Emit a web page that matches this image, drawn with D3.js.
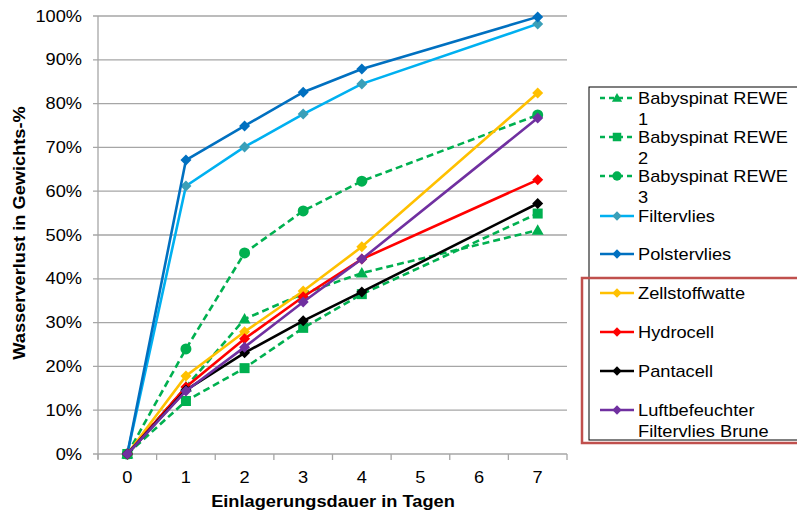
<!DOCTYPE html>
<html><head><meta charset="utf-8">
<script src="https://cdn.jsdelivr.net/npm/d3@7"></script>
<style>body{margin:0;background:#fff}svg{font-family:"Liberation Sans",Arial,sans-serif}</style>
</head><body><svg id="c" width="797" height="515"></svg>
<script>
const categories = [0,1,2,3,4,5,6,7];
const days = [0,1,2,3,4,7];
const babyspinat1 = [0,15.3,30.8,36.6,41.3,51.1];
const babyspinat2 = [0,12.1,19.6,28.8,36.5,54.9];
const babyspinat3 = [0,24.0,45.9,55.5,62.3,77.4];
const filtervlies = [0,61.2,70.1,77.6,84.5,98.2];
const polstervlies = [0,67.1,74.9,82.6,87.9,99.8];
const zellstoffwatte = [0,17.8,27.9,37.2,47.3,82.4];
const hydrocell = [0,15.3,26.3,35.9,44.5,62.6];
const pantacell = [0,14.6,23.1,30.4,37.0,57.2];
const luftbefeuchter = [0,14.4,24.4,34.7,44.5,76.7];
const yTicks = [0,10,20,30,40,50,60,70,80,90,100];

const series = [
 {name:["Babyspinat REWE","1"], v:babyspinat1, color:"#00B050", mcolor:"#00B050", dash:"7,4", marker:"triangle"},
 {name:["Babyspinat REWE","2"], v:babyspinat2, color:"#00B050", mcolor:"#00B050", dash:"7,4", marker:"square"},
 {name:["Babyspinat REWE","3"], v:babyspinat3, color:"#00B050", mcolor:"#00B050", dash:"7,4", marker:"circle"},
 {name:["Filtervlies"], v:filtervlies, color:"#00B0F0", mcolor:"#3A9FB8", dash:null, marker:"diamond"},
 {name:["Polstervlies"], v:polstervlies, color:"#0070C0", mcolor:"#0070C0", dash:null, marker:"diamond"},
 {name:["Zellstoffwatte"], v:zellstoffwatte, color:"#FFC000", mcolor:"#FFC000", dash:null, marker:"diamond"},
 {name:["Hydrocell"], v:hydrocell, color:"#FF0000", mcolor:"#FF0000", dash:null, marker:"diamond"},
 {name:["Pantacell"], v:pantacell, color:"#000000", mcolor:"#000000", dash:null, marker:"diamond"},
 {name:["Luftbefeuchter","Filtervlies Brune"], v:luftbefeuchter, color:"#7030A0", mcolor:"#7030A0", dash:null, marker:"diamond"}
];

const FS = 16, SX = 1.14;
const svg = d3.select("#c");
const L=98, R=567, T=16, B=454;
const xb = d3.scaleBand().domain(categories).range([L,R]);
const x = d => xb(d) + xb.bandwidth()/2;
const y = d3.scaleLinear().domain([0,100]).range([B,T]);

function txt(g, tx, ty, s, anchor, bold, rot){
  return g.append("text").attr("transform",`translate(${tx},${ty})${rot?` rotate(${rot})`:""} scale(${SX},1)`)
    .attr("text-anchor",anchor||"start").attr("font-size",FS).attr("font-weight",bold?"bold":null).attr("fill","#000").text(s);
}

svg.append("g").selectAll("line").data(yTicks).join("line")
  .attr("x1",L-5).attr("x2",R).attr("y1",d=>y(d)).attr("y2",d=>y(d))
  .attr("stroke","#A6A6A6").attr("stroke-width",1.3);
svg.append("line").attr("x1",L).attr("x2",L).attr("y1",T).attr("y2",B+5).attr("stroke","#A6A6A6").attr("stroke-width",1.3);
const xt = d3.range(categories.length+1).map(i=>L+i*xb.step());
svg.append("g").selectAll("line").data(xt).join("line")
  .attr("x1",d=>d).attr("x2",d=>d).attr("y1",B).attr("y2",B+6).attr("stroke","#A6A6A6").attr("stroke-width",1.3);

const gl = svg.append("g");
yTicks.forEach(d=>txt(gl,82,y(d)+5.5,d+"%","end"));
categories.forEach(d=>txt(gl,x(d),483,String(d),"middle"));
txt(gl,333,507,"Einlagerungsdauer in Tagen","middle",true);
txt(gl,25,233,"Wasserverlust in Gewichts-%","middle",true,-90);

const line = d3.line().x((d,i)=>x(days[i])).y(d=>y(d));
function marker(g, type, cx, cy, color, scale){
  const s = scale||1;
  if(type==="diamond") g.append("path").attr("d",`M${cx},${cy-5.5*s}L${cx+5.5*s},${cy}L${cx},${cy+5.5*s}L${cx-5.5*s},${cy}Z`).attr("fill",color);
  else if(type==="square") g.append("rect").attr("x",cx-5*s).attr("y",cy-5*s).attr("width",10*s).attr("height",10*s).attr("fill",color);
  else if(type==="circle") g.append("circle").attr("cx",cx).attr("cy",cy).attr("r",5.5*s).attr("fill",color);
  else if(type==="triangle") g.append("path").attr("d",`M${cx},${cy-6*s}L${cx+6*s},${cy+4.5*s}L${cx-6*s},${cy+4.5*s}Z`).attr("fill",color);
}
series.forEach(s=>{
  const g=svg.append("g");
  g.append("path").attr("d",line(s.v)).attr("fill","none").attr("stroke",s.color).attr("stroke-width",2.6)
   .attr("stroke-dasharray",s.dash);
  s.v.forEach((v,j)=>marker(g,s.marker,x(days[j]),y(v),s.mcolor));
});

svg.append("rect").attr("x",589).attr("y",87).attr("width",220).attr("height",353).attr("fill","#fff").attr("stroke","#000").attr("stroke-width",1);
const ly = [98,137,176,216,254,293,332,371,410];
series.forEach((s,i)=>{
  const g=svg.append("g");
  const yy=ly[i];
  g.append("line").attr("x1",600).attr("x2",634).attr("y1",yy).attr("y2",yy).attr("stroke",s.color).attr("stroke-width",2.6).attr("stroke-dasharray",s.dash?"5,4":null);
  marker(g,s.marker,617,yy,s.mcolor,0.85);
  s.name.forEach((t,k)=>txt(g,638,yy+5.5+k*21,t));
});
svg.append("rect").attr("x",582).attr("y",278).attr("width",230).attr("height",165).attr("fill","none").attr("stroke","#C0504D").attr("stroke-width",2.5);
</script></body></html>
